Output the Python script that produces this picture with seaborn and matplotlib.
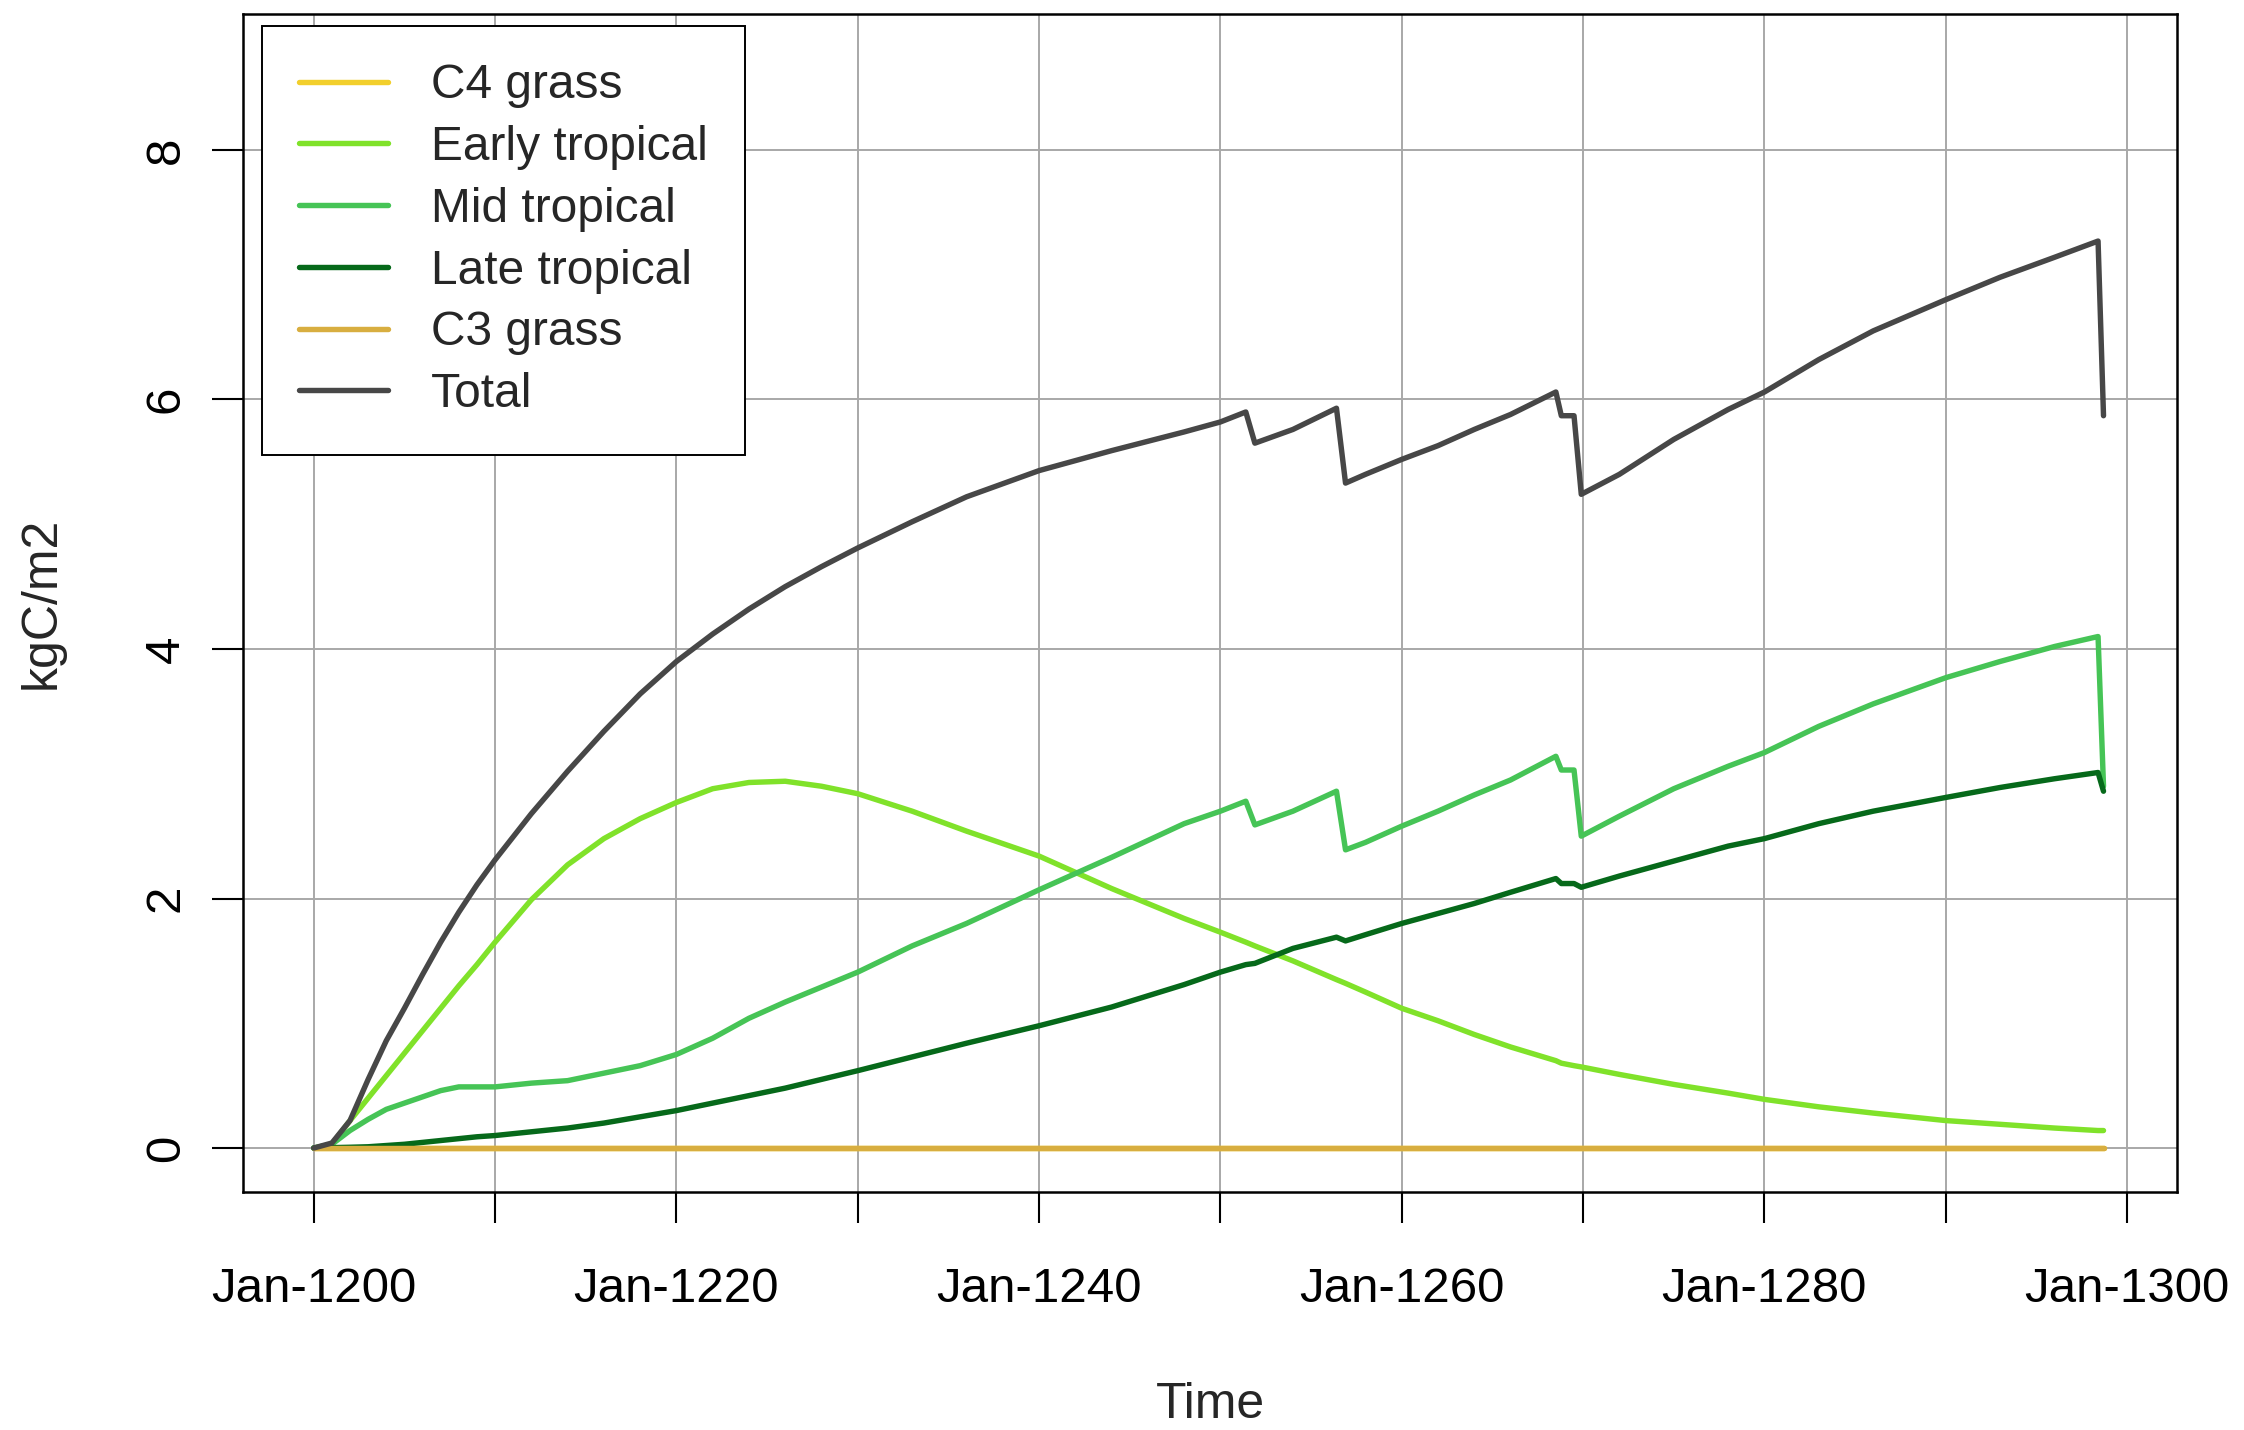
import matplotlib
matplotlib.use("Agg")
import matplotlib.pyplot as plt
import seaborn as sns

# time axis (years; extra points around the disturbance drops)
years = [1200, 1201, 1202, 1203, 1204, 1205, 1206, 1207, 1208, 1209,
         1210, 1212, 1214, 1216, 1218, 1220, 1222, 1224, 1226, 1228,
         1230, 1233, 1236, 1240, 1244, 1248, 1250, 1251.4, 1251.9, 1254,
         1256.4, 1256.9, 1258, 1260, 1262, 1264, 1266, 1268.5, 1268.8, 1269.5,
         1269.9, 1272, 1275, 1278, 1280, 1283, 1286, 1290, 1293, 1296,
         1298.4, 1298.7]

early_tropical = [0.0, 0.03, 0.22, 0.40, 0.58, 0.76, 0.94, 1.12, 1.30, 1.47,
                  1.65, 1.99, 2.27, 2.48, 2.64, 2.77, 2.88, 2.93, 2.94, 2.90,
                  2.84, 2.70, 2.54, 2.34, 2.08, 1.84, 1.73, 1.65, 1.62, 1.50,
                  1.35, 1.32, 1.25, 1.12, 1.02, 0.91, 0.81, 0.70, 0.68, 0.66,
                  0.65, 0.59, 0.51, 0.44, 0.39, 0.33, 0.28, 0.22, 0.19, 0.16,
                  0.14, 0.14]

mid_tropical = [0.0, 0.03, 0.14, 0.23, 0.31, 0.36, 0.41, 0.46, 0.49, 0.49,
                0.49, 0.52, 0.54, 0.60, 0.66, 0.75, 0.88, 1.04, 1.17, 1.29,
                1.41, 1.62, 1.80, 2.07, 2.33, 2.60, 2.70, 2.78, 2.59, 2.70,
                2.86, 2.39, 2.45, 2.58, 2.70, 2.83, 2.95, 3.14, 3.03, 3.03,
                2.50, 2.66, 2.88, 3.06, 3.17, 3.38, 3.56, 3.77, 3.90, 4.02,
                4.10, 2.90]

late_tropical = [0.0, 0.003, 0.006, 0.01, 0.02, 0.03, 0.045, 0.06, 0.075, 0.09,
                 0.10, 0.13, 0.16, 0.20, 0.25, 0.30, 0.36, 0.42, 0.48, 0.55,
                 0.62, 0.73, 0.84, 0.98, 1.13, 1.31, 1.41, 1.47, 1.48, 1.60,
                 1.69, 1.66, 1.71, 1.80, 1.88, 1.96, 2.05, 2.16, 2.12, 2.12,
                 2.09, 2.18, 2.30, 2.42, 2.48, 2.60, 2.70, 2.81, 2.89, 2.96,
                 3.01, 2.86]

total = [0.0, 0.04, 0.22, 0.55, 0.86, 1.12, 1.39, 1.65, 1.89, 2.11,
         2.31, 2.68, 3.02, 3.34, 3.64, 3.90, 4.12, 4.32, 4.50, 4.66,
         4.81, 5.02, 5.22, 5.43, 5.59, 5.74, 5.82, 5.90, 5.65, 5.76,
         5.93, 5.33, 5.40, 5.52, 5.63, 5.76, 5.88, 6.06, 5.87, 5.87,
         5.24, 5.40, 5.68, 5.92, 6.06, 6.32, 6.55, 6.80, 6.98, 7.14,
         7.27, 5.87]

# the two grasses stay at zero for the whole run
grass_years = [1200, 1298.7]
c4_grass = [0.0, 0.0]
c3_grass = [0.0, 0.0]

x_ticks = [1200, 1210, 1220, 1230, 1240, 1250, 1260, 1270, 1280, 1290, 1300]
x_tick_labels = ["Jan-1200", "", "Jan-1220", "", "Jan-1240", "", "Jan-1260", "",
                 "Jan-1280", "", "Jan-1300"]
y_ticks = [0, 2, 4, 6, 8]

sns.set_style("white")
plt.rcParams['font.family'] = ['Liberation Sans', 'DejaVu Sans']

fig = plt.figure(figsize=(22.44, 14.30), dpi=100)
ax = fig.add_axes([0.1083, 0.1664, 0.8619, 0.8238])

series = [
    ("C4 grass", grass_years, c4_grass, "#F2CF2C"),
    ("Early tropical", years, early_tropical, "#80E22A"),
    ("Mid tropical", years, mid_tropical, "#46C456"),
    ("Late tropical", years, late_tropical, "#06691A"),
    ("C3 grass", grass_years, c3_grass, "#D8AE40"),
    ("Total", years, total, "#474747"),
]
for name, xs, ys, col in series:
    sns.lineplot(x=xs, y=ys, ax=ax, color=col, label=name, linewidth=3.9,
                 sort=False, estimator=None, solid_capstyle="round",
                 solid_joinstyle="round")

ax.set_xlim(1196.1, 1302.76)
ax.set_ylim(-0.353, 9.09)
ax.set_xticks(x_ticks)
ax.set_xticklabels(x_tick_labels)
ax.set_yticks(y_ticks)
ax.grid(True, color="#A8A8A8", linewidth=1.4)
ax.set_axisbelow(True)

for s in ax.spines.values():
    s.set_color("black")
    s.set_linewidth(1.8)

ax.tick_params(direction="out", length=22, width=1.5, colors="black",
               labelsize=35.5, bottom=True, left=True)
ax.tick_params(axis="x", pad=32)
ax.tick_params(axis="y", pad=17)
plt.setp(ax.get_yticklabels(), rotation=90, va="center")

ax.set_xlabel("Time", fontsize=36)
ax.set_ylabel("kgC/m2", fontsize=36)
ax.xaxis.set_label_coords(0.5, -0.161)
ax.yaxis.set_label_coords(-0.092, 0.50)

leg = ax.legend(loc="upper left", bbox_to_anchor=(0.0098, 0.9898), borderaxespad=0,
                fontsize=34.5, frameon=True, fancybox=False, edgecolor="black",
                framealpha=1, handlelength=1.85, handletextpad=0.9,
                borderpad=0.78, labelspacing=0.35)
leg.get_frame().set_linewidth(1.4)

fig.savefig("out.png", dpi=100, facecolor="white")
